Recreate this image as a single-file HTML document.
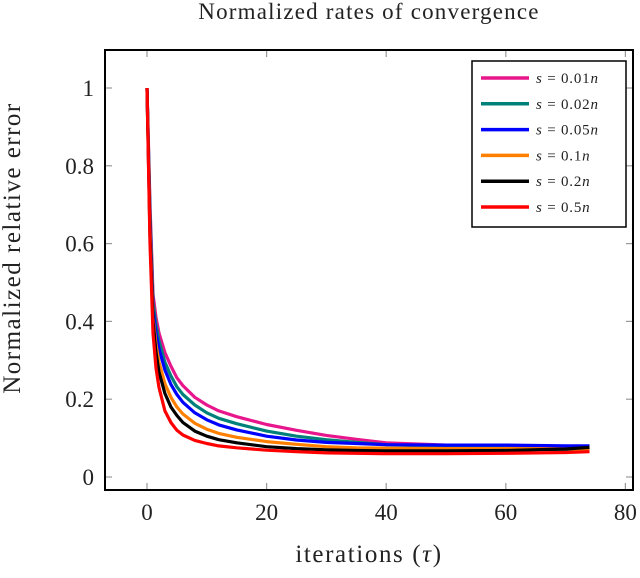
<!DOCTYPE html>
<html><head><meta charset="utf-8"><style>
body{margin:0;background:#fff}
svg text{font-family:"Liberation Serif","DejaVu Serif",serif;fill:#222}
</style></head><body>
<svg id="c" width="640" height="573" xmlns="http://www.w3.org/2000/svg">
<text x="369" y="19" font-size="23" letter-spacing="1.2" text-anchor="middle">Normalized rates of convergence</text>
<text x="369" y="562" font-size="25" letter-spacing="1.6" text-anchor="middle">iterations (<tspan font-style="italic">τ</tspan>)</text>
<text transform="translate(20,248) rotate(-90)" font-size="25" letter-spacing="1.5" text-anchor="middle">Normalized relative error</text>
<g id="ticks"></g>
<g id="series"></g>
<rect x="105" y="50" width="528" height="440" fill="none" stroke="#000" stroke-width="2"/>
<g id="legend">
<rect x="472" y="61" width="154" height="166" fill="#fff" stroke="#000" stroke-width="1.5"/>
</g>
</svg>
<script>
const iters=[0,0.5,1,1.5,2,3,4,5,6,8,10,12,15,20,25,30,35,40,50,60,70,74];
const s001=[1,0.7,0.47,0.41,0.37,0.32,0.285,0.255,0.235,0.205,0.185,0.17,0.155,0.135,0.12,0.107,0.097,0.088,0.082,0.078,0.074,0.07];
const s002=[1,0.68,0.45,0.39,0.35,0.295,0.26,0.232,0.212,0.185,0.165,0.151,0.137,0.118,0.105,0.096,0.089,0.083,0.078,0.074,0.07,0.066];
const s005=[1,0.66,0.43,0.37,0.33,0.275,0.238,0.212,0.192,0.165,0.147,0.134,0.121,0.105,0.095,0.089,0.086,0.083,0.082,0.082,0.08,0.08];
const s01=[1,0.64,0.41,0.34,0.295,0.24,0.205,0.18,0.162,0.138,0.123,0.112,0.102,0.091,0.084,0.078,0.075,0.074,0.073,0.073,0.072,0.072];
const s02=[1,0.62,0.40,0.32,0.27,0.215,0.18,0.158,0.14,0.118,0.105,0.096,0.088,0.078,0.073,0.07,0.068,0.067,0.067,0.068,0.072,0.076];
const s05=[1,0.6,0.37,0.28,0.23,0.17,0.14,0.12,0.108,0.094,0.086,0.08,0.075,0.069,0.065,0.062,0.061,0.06,0.06,0.061,0.063,0.065];
const xTicks=[0,20,40,60,80];
const yTicks=[0,0.2,0.4,0.6,0.8,1];
const yTickLabels=["0","0.2","0.4","0.6","0.8","1"];
const seriesNames=["s = 0.01n","s = 0.02n","s = 0.05n","s = 0.1n","s = 0.2n","s = 0.5n"];
const colors=["#e8168c","#00807a","#0000ff","#ff8000","#000000","#ff0000"];
const allSeries=[s001,s002,s005,s01,s02,s05];
const X=v=>147+v*5.98, Y=v=>477-v*389;
const NS="http://www.w3.org/2000/svg";
function mk(t,a,p){const e=document.createElementNS(NS,t);for(const k in a)e.setAttribute(k,a[k]);p.appendChild(e);return e;}
const tg=document.getElementById('ticks');
xTicks.forEach(v=>{const x=X(v);
 let l=mk('line',{x1:x,x2:x,y1:490,y2:483,stroke:'#999','stroke-width':1.2},tg);
 
 
 let l2=mk('line',{x1:x,x2:x,y1:50,y2:57,stroke:'#999','stroke-width':1.2},tg);
 
 
 let t=mk('text',{x:x,y:520,'font-size':23,'text-anchor':'middle'},tg);t.textContent=v;
 
 
});
yTicks.forEach((v,i)=>{const y=Y(v);
 let l=mk('line',{x1:105,x2:112,y1:y,y2:y,stroke:'#999','stroke-width':1.2},tg);
 
 
 let l2=mk('line',{x1:626,x2:633,y1:y,y2:y,stroke:'#999','stroke-width':1.2},tg);
 
 
 let t=mk('text',{x:94,y:y+8,'font-size':23,'text-anchor':'end'},tg);t.textContent=yTickLabels[i];
 
 
});
const sg=document.getElementById('series');
allSeries.forEach((s,i)=>{
 const d=s.map((v,j)=>(j?'L':'M')+X(iters[j]).toFixed(1)+','+Y(v).toFixed(1)).join('');
 let p=mk('path',{d:d,fill:'none',stroke:colors[i],'stroke-width':3.2,'stroke-linejoin':'round'},sg);
 
 
});
const lg=document.getElementById('legend');
seriesNames.forEach((n,i)=>{const y=78+i*25.8;
 let l=mk('line',{x1:481,x2:529,y1:y,y2:y,stroke:colors[i],'stroke-width':3.5},lg);
 
 
 let t=mk('text',{x:536,y:y+5,'font-size':15,'letter-spacing':0.8},lg);
 const parts=n.split(' = ');
 t.innerHTML='<tspan font-style="italic">s</tspan> = '+parts[1].replace('n','')+'<tspan font-style="italic">n</tspan>';
 
 
});
</script>
</body></html>
